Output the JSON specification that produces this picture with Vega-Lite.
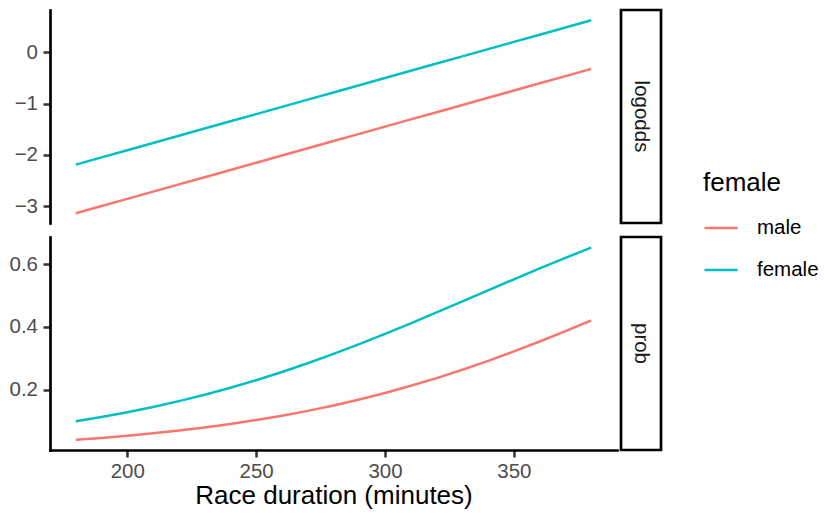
{
  "$schema": "https://vega.github.io/schema/vega-lite/v6.json",
  "padding": {"left": 9, "top": 8, "right": 0, "bottom": 0},
  "background": "white",
  "datasets": {
    "pred": [
      {"minutes": 180, "sex": "male", "panel": "logodds", "value": -3.140},
      {"minutes": 190, "sex": "male", "panel": "logodds", "value": -2.999},
      {"minutes": 200, "sex": "male", "panel": "logodds", "value": -2.858},
      {"minutes": 210, "sex": "male", "panel": "logodds", "value": -2.717},
      {"minutes": 220, "sex": "male", "panel": "logodds", "value": -2.576},
      {"minutes": 230, "sex": "male", "panel": "logodds", "value": -2.435},
      {"minutes": 240, "sex": "male", "panel": "logodds", "value": -2.294},
      {"minutes": 250, "sex": "male", "panel": "logodds", "value": -2.153},
      {"minutes": 260, "sex": "male", "panel": "logodds", "value": -2.012},
      {"minutes": 270, "sex": "male", "panel": "logodds", "value": -1.871},
      {"minutes": 280, "sex": "male", "panel": "logodds", "value": -1.730},
      {"minutes": 290, "sex": "male", "panel": "logodds", "value": -1.589},
      {"minutes": 300, "sex": "male", "panel": "logodds", "value": -1.448},
      {"minutes": 310, "sex": "male", "panel": "logodds", "value": -1.307},
      {"minutes": 320, "sex": "male", "panel": "logodds", "value": -1.166},
      {"minutes": 330, "sex": "male", "panel": "logodds", "value": -1.025},
      {"minutes": 340, "sex": "male", "panel": "logodds", "value": -0.884},
      {"minutes": 350, "sex": "male", "panel": "logodds", "value": -0.743},
      {"minutes": 360, "sex": "male", "panel": "logodds", "value": -0.602},
      {"minutes": 370, "sex": "male", "panel": "logodds", "value": -0.461},
      {"minutes": 380, "sex": "male", "panel": "logodds", "value": -0.320},
      {"minutes": 180, "sex": "female", "panel": "logodds", "value": -2.190},
      {"minutes": 190, "sex": "female", "panel": "logodds", "value": -2.049},
      {"minutes": 200, "sex": "female", "panel": "logodds", "value": -1.908},
      {"minutes": 210, "sex": "female", "panel": "logodds", "value": -1.767},
      {"minutes": 220, "sex": "female", "panel": "logodds", "value": -1.626},
      {"minutes": 230, "sex": "female", "panel": "logodds", "value": -1.485},
      {"minutes": 240, "sex": "female", "panel": "logodds", "value": -1.344},
      {"minutes": 250, "sex": "female", "panel": "logodds", "value": -1.203},
      {"minutes": 260, "sex": "female", "panel": "logodds", "value": -1.062},
      {"minutes": 270, "sex": "female", "panel": "logodds", "value": -0.921},
      {"minutes": 280, "sex": "female", "panel": "logodds", "value": -0.780},
      {"minutes": 290, "sex": "female", "panel": "logodds", "value": -0.639},
      {"minutes": 300, "sex": "female", "panel": "logodds", "value": -0.498},
      {"minutes": 310, "sex": "female", "panel": "logodds", "value": -0.357},
      {"minutes": 320, "sex": "female", "panel": "logodds", "value": -0.216},
      {"minutes": 330, "sex": "female", "panel": "logodds", "value": -0.075},
      {"minutes": 340, "sex": "female", "panel": "logodds", "value": 0.066},
      {"minutes": 350, "sex": "female", "panel": "logodds", "value": 0.207},
      {"minutes": 360, "sex": "female", "panel": "logodds", "value": 0.348},
      {"minutes": 370, "sex": "female", "panel": "logodds", "value": 0.489},
      {"minutes": 380, "sex": "female", "panel": "logodds", "value": 0.630},
      {"minutes": 180, "sex": "male", "panel": "prob", "value": 0.0415},
      {"minutes": 190, "sex": "male", "panel": "prob", "value": 0.0475},
      {"minutes": 200, "sex": "male", "panel": "prob", "value": 0.0543},
      {"minutes": 210, "sex": "male", "panel": "prob", "value": 0.0620},
      {"minutes": 220, "sex": "male", "panel": "prob", "value": 0.0707},
      {"minutes": 230, "sex": "male", "panel": "prob", "value": 0.0805},
      {"minutes": 240, "sex": "male", "panel": "prob", "value": 0.0916},
      {"minutes": 250, "sex": "male", "panel": "prob", "value": 0.1041},
      {"minutes": 260, "sex": "male", "panel": "prob", "value": 0.1180},
      {"minutes": 270, "sex": "male", "panel": "prob", "value": 0.1334},
      {"minutes": 280, "sex": "male", "panel": "prob", "value": 0.1506},
      {"minutes": 290, "sex": "male", "panel": "prob", "value": 0.1695},
      {"minutes": 300, "sex": "male", "panel": "prob", "value": 0.1903},
      {"minutes": 310, "sex": "male", "panel": "prob", "value": 0.2130},
      {"minutes": 320, "sex": "male", "panel": "prob", "value": 0.2376},
      {"minutes": 330, "sex": "male", "panel": "prob", "value": 0.2641},
      {"minutes": 340, "sex": "male", "panel": "prob", "value": 0.2923},
      {"minutes": 350, "sex": "male", "panel": "prob", "value": 0.3224},
      {"minutes": 360, "sex": "male", "panel": "prob", "value": 0.3539},
      {"minutes": 370, "sex": "male", "panel": "prob", "value": 0.3867},
      {"minutes": 380, "sex": "male", "panel": "prob", "value": 0.4207},
      {"minutes": 180, "sex": "female", "panel": "prob", "value": 0.1007},
      {"minutes": 190, "sex": "female", "panel": "prob", "value": 0.1142},
      {"minutes": 200, "sex": "female", "panel": "prob", "value": 0.1292},
      {"minutes": 210, "sex": "female", "panel": "prob", "value": 0.1459},
      {"minutes": 220, "sex": "female", "panel": "prob", "value": 0.1644},
      {"minutes": 230, "sex": "female", "panel": "prob", "value": 0.1847},
      {"minutes": 240, "sex": "female", "panel": "prob", "value": 0.2069},
      {"minutes": 250, "sex": "female", "panel": "prob", "value": 0.2309},
      {"minutes": 260, "sex": "female", "panel": "prob", "value": 0.2569},
      {"minutes": 270, "sex": "female", "panel": "prob", "value": 0.2847},
      {"minutes": 280, "sex": "female", "panel": "prob", "value": 0.3143},
      {"minutes": 290, "sex": "female", "panel": "prob", "value": 0.3455},
      {"minutes": 300, "sex": "female", "panel": "prob", "value": 0.3780},
      {"minutes": 310, "sex": "female", "panel": "prob", "value": 0.4117},
      {"minutes": 320, "sex": "female", "panel": "prob", "value": 0.4462},
      {"minutes": 330, "sex": "female", "panel": "prob", "value": 0.4813},
      {"minutes": 340, "sex": "female", "panel": "prob", "value": 0.5165},
      {"minutes": 350, "sex": "female", "panel": "prob", "value": 0.5516},
      {"minutes": 360, "sex": "female", "panel": "prob", "value": 0.5861},
      {"minutes": 370, "sex": "female", "panel": "prob", "value": 0.6198},
      {"minutes": 380, "sex": "female", "panel": "prob", "value": 0.6525}
    ]
  },
  "config": {
    "font": "Liberation Sans",
    "view": {"stroke": null},
    "axis": {
      "grid": false,
      "domainColor": "black",
      "domainWidth": 2.7,
      "domainCap": "square",
      "tickColor": "#333333",
      "tickWidth": 2.5,
      "tickSize": 7,
      "labelColor": "#4D4D4D",
      "labelFontSize": 20.5,
      "labelPadding": 5.5,
      "titleFontSize": 26,
      "titleColor": "black",
      "titleFontWeight": "normal"
    },
    "legend": {
      "orient": "none",
      "legendX": 653,
      "legendY": 160,
      "padding": 0,
      "titleFontSize": 26,
      "titleFontWeight": "normal",
      "titleColor": "black",
      "titlePadding": 14,
      "labelFontSize": 20.5,
      "labelColor": "black",
      "labelOffset": 18,
      "symbolType": "stroke",
      "symbolSize": 1089,
      "symbolStrokeWidth": 2.7,
      "rowPadding": 13
    }
  },
  "spacing": 10,
  "vconcat": [
    {
      "spacing": 2,
      "hconcat": [
        {
          "width": 567,
          "height": 213,
          "data": {"name": "pred"},
          "transform": [{"filter": "datum.panel === 'logodds'"}],
          "mark": {"type": "line", "strokeWidth": 2.5},
          "encoding": {
            "x": {"field": "minutes", "type": "quantitative", "scale": {"domain": [170, 390], "nice": false, "zero": false}, "axis": null},
            "y": {"field": "value", "type": "quantitative", "scale": {"domain": [-3.33, 0.83], "nice": false, "zero": false}, "axis": {"title": null, "values": [-3, -2, -1, 0], "format": "d"}},
            "color": {"field": "sex", "type": "nominal", "scale": {"domain": ["male", "female"], "range": ["#F8766D", "#00BFC4"]}, "legend": {"title": "female"}}
          }
        },
        {
          "width": 40,
          "height": 213,
          "view": {"stroke": "black", "strokeWidth": 2.7},
          "data": {"values": [{"panel": "logodds"}]},
          "mark": {"type": "text", "angle": 90, "fontSize": 20.5, "color": "#1A1A1A"},
          "encoding": {"text": {"field": "panel", "type": "nominal"}}
        }
      ]
    },
    {
      "spacing": 2,
      "hconcat": [
        {
          "width": 567,
          "height": 213,
          "data": {"name": "pred"},
          "transform": [{"filter": "datum.panel === 'prob'"}],
          "mark": {"type": "line", "strokeWidth": 2.5},
          "encoding": {
            "x": {"field": "minutes", "type": "quantitative", "scale": {"domain": [170, 390], "nice": false, "zero": false}, "axis": {"title": "Race duration (minutes)", "values": [200, 250, 300, 350], "labelPadding": 4, "titlePadding": 1}},
            "y": {"field": "value", "type": "quantitative", "scale": {"domain": [0.009, 0.686], "nice": false, "zero": false}, "axis": {"title": null, "values": [0.2, 0.4, 0.6], "format": ".1f"}},
            "color": {"field": "sex", "type": "nominal", "scale": {"domain": ["male", "female"], "range": ["#F8766D", "#00BFC4"]}, "legend": {"title": "female"}}
          }
        },
        {
          "width": 40,
          "height": 213,
          "view": {"stroke": "black", "strokeWidth": 2.7},
          "data": {"values": [{"panel": "prob"}]},
          "mark": {"type": "text", "angle": 90, "fontSize": 20.5, "color": "#1A1A1A"},
          "encoding": {"text": {"field": "panel", "type": "nominal"}}
        }
      ]
    }
  ]
}
